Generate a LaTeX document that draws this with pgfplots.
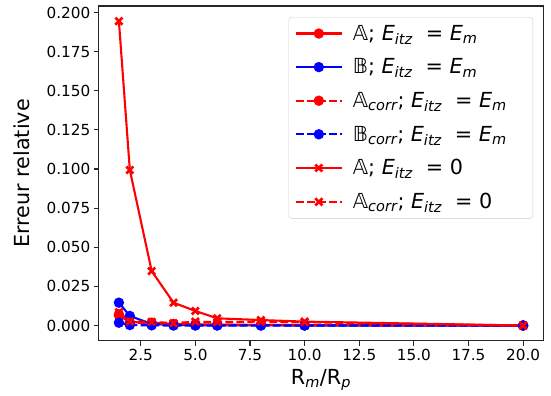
\documentclass[border=0pt]{standalone}
\usepackage{pgfplots}
\pgfplotsset{compat=1.18}
\usepackage{fontspec}
\setmainfont{DejaVu Sans}
\newcommand\sub[1]{\textsubscript{\itshape #1}}
\newcommand\EE{\textit{E}}
\newcommand\bbA{\textit{𝔸}}
\newcommand\bbB{\textit{𝔹}}
\newcommand\lt[1]{\makebox[172bp][l]{#1}}
\pgfdeclareplotmark{Xf}{%
  \pgfsetdash{}{0pt}%
  \pgfsetlinewidth{0.6\pgfplotmarksize}%
  \pgfsetbuttcap
  \pgfpathmoveto{\pgfqpoint{-0.8\pgfplotmarksize}{-0.8\pgfplotmarksize}}%
  \pgfpathlineto{\pgfqpoint{0.8\pgfplotmarksize}{0.8\pgfplotmarksize}}%
  \pgfpathmoveto{\pgfqpoint{-0.8\pgfplotmarksize}{0.8\pgfplotmarksize}}%
  \pgfpathlineto{\pgfqpoint{0.8\pgfplotmarksize}{-0.8\pgfplotmarksize}}%
  \pgfusepathqstroke}
\pgfplotstableread{
x     A       B       Ac      Bc      A0      Ac0
1.5   0.0065  0.0146  0.0072  0.0018  0.1945  0.0085
2     0.0022  0.0061  0.0018  0.0003  0.0994  0.0026
3     0.0018  0.0010  0.0015  0.0001  0.0348  0.0024
4     0.0010  0.0003  0.0008  0.0000  0.0146  0.0015
5     0.0007  0.0002  0.0006  0.0000  0.0093  0.0025
6     0.0006  0.0001  0.0005  0.0000  0.0046  0.0022
8     0.0004  0.0001  0.0004  0.0000  0.0035  0.0025
10    0.0003  0.0000  0.0003  0.0000  0.0025  0.0021
20    0.0000  0.0000  0.0000  0.0000  0.0000  0.0000
}\data
\begin{document}
\begin{tikzpicture}
\begin{axis}[
  scale only axis,
  width=444.6bp, height=334.7bp,
  xmin=0.575, xmax=20.925,
  ymin=-0.0097, ymax=0.2042,
  xtick={2.5,5,...,20},
  ytick={0,0.025,...,0.2},
  xtick pos=bottom, ytick pos=left,
  tick align=outside,
  major tick length=4.9bp,
  every tick/.style={black!85, line width=1.1bp},
  axis line style={black!85, line width=1.1bp},
  /pgf/number format/assume math mode=true,
  xticklabel style={/pgf/number format/.cd, fixed, fixed zerofill, precision=1},
  yticklabel style={/pgf/number format/.cd, fixed, fixed zerofill, precision=3},
  tick label style={font=\fontsize{15.3}{18}\selectfont, text=black},
  scaled y ticks=false,
  xlabel={R\sub{m}/R\sub{p}},
  ylabel={Erreur relative},
  label style={font=\fontsize{20.8}{25}\selectfont},
  xlabel style={at={(axis description cs:0.5,-0.117)}, anchor=center},
  ylabel style={at={(axis description cs:-0.172,0.5)}, anchor=center},
  legend cell align=left,
  legend style={at={(0.977,0.967)}, anchor=north east, draw=black!20,
    rounded corners=3bp, font=\fontsize{20.8}{25}\selectfont, row sep=13bp,
    column sep=8bp, inner xsep=6bp, inner ysep=6bp},
  legend image code/.code={%
    \draw[mark repeat=2,mark phase=2] plot coordinates {(0bp,0bp) (23bp,0bp) (46bp,0bp)};},
  every axis plot/.append style={line width=2.1bp},
  mark options={solid},
]
\addplot[red, mark=*, mark size=4.1bp] table[x=x,y=A]{\data};
\addlegendentry{\lt{\bbA; \EE\sub{itz}\ \ = \EE\sub{m}}}
\addplot[blue, mark=*, mark size=4.1bp] table[x=x,y=B]{\data};
\addlegendentry{\lt{\bbB; \EE\sub{itz}\ \ = \EE\sub{m}}}
\addplot[red, dash pattern=on 7.7bp off 3.3bp, mark=*, mark size=4.1bp] table[x=x,y=Ac]{\data};
\addlegendentry{\lt{\bbA\sub{corr}; \EE\sub{itz}\ \ = \EE\sub{m}}}
\addplot[blue, dash pattern=on 7.7bp off 3.3bp, mark=*, mark size=4.1bp] table[x=x,y=Bc]{\data};
\addlegendentry{\lt{\bbB\sub{corr}; \EE\sub{itz}\ \ = \EE\sub{m}}}
\addplot[red, mark=Xf, mark size=4.4bp] table[x=x,y=A0]{\data};
\addlegendentry{\lt{\bbA; \EE\sub{itz}\ \ = 0}}
\addplot[red, dash pattern=on 7.7bp off 3.3bp, mark=Xf, mark size=4.4bp] table[x=x,y=Ac0]{\data};
\addlegendentry{\lt{\bbA\sub{corr}; \EE\sub{itz}\ \ = 0}}
\end{axis}
\pgfresetboundingbox
\path (current axis.south west) ++(-98.7bp,-55.3bp) coordinate (bl);
\path (current axis.north east) ++(7.7bp,6bp) coordinate (tr);
\path[use as bounding box] (bl) rectangle (tr);
\end{tikzpicture}
\end{document}
